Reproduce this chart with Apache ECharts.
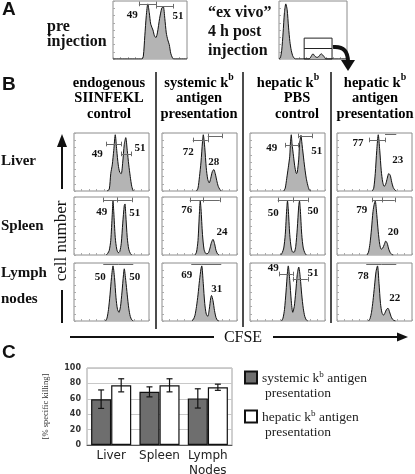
<!DOCTYPE html>
<html><head><meta charset="utf-8">
<script src="https://cdn.jsdelivr.net/npm/echarts@6.0.0/dist/echarts.min.js"></script>
<style>html,body{margin:0;padding:0;background:#fff}#c{width:415px;height:474px}</style>
</head><body><div id="c"></div>
<script>
// ---------- DATA (CFSE channel 0-100 across each plot, cell count 0-100) ----------
const preInjection = [[0,0],[39,0],[41,5],[43,40],[45,75],[47,95],[49,80],[51,60],[54,50],[56,40],[58,37],[60,45],[63,70],[66,88],[68,90],[70,70],[72,45],[74,33],[76,25],[78,10],[80,3],[82,0],[100,0]];
const exVivo = [[0,0],[2,2],[4,15],[6,45],[8,80],[10,95],[12,85],[14,55],[16,30],[18,15],[20,6],[22,2],[24,0],[44,0],[46,2],[48,6],[50,9],[52,6],[55,3],[57,3],[59,5],[62,9],[65,6],[67,3],[69,0],[100,0]];

const liverEndo = [[44,0],[47,3],[49,30],[51,45],[53,70],[55,97],[57,70],[59,45],[61,32],[63,30],[65,50],[67,80],[69,92],[71,70],[73,45],[75,25],[77,8],[79,0]];
const liverSys  = [[46,0],[48,5],[50,25],[52,50],[54,85],[55,97],[57,75],[59,40],[61,20],[63,14],[65,22],[67,33],[69,37],[71,30],[73,18],[75,8],[77,3],[79,0]];
const liverPBS  = [[45,0],[47,5],[49,22],[51,40],[53,60],[54,85],[55,97],[56,82],[58,60],[60,40],[62,30],[63,32],[65,55],[66,80],[68,96],[69,85],[71,62],[73,40],[75,22],[77,10],[79,2],[81,0]];
const liverHep  = [[47,0],[49,5],[51,30],[53,70],[55,97],[57,70],[59,35],[61,15],[63,8],[65,12],[67,22],[69,30],[71,27],[73,15],[75,6],[77,2],[79,0]];

const spleenEndo = [[43,0],[45,3],[47,8],[49,25],[51,70],[52,93],[53,75],[55,30],[57,10],[59,4],[61,6],[63,20],[65,55],[67,85],[68,88],[69,70],[71,30],[73,10],[75,3],[77,0]];
const spleenSys  = [[44,0],[46,5],[48,25],[50,75],[51,93],[52,80],[54,35],[56,10],[58,3],[60,2],[62,4],[64,12],[66,22],[68,27],[70,20],[72,8],[74,2],[76,0]];
const spleenPBS  = [[41,0],[43,4],[45,12],[47,35],[49,80],[50,93],[51,80],[53,35],[55,12],[57,5],[59,5],[61,15],[63,45],[65,85],[66,93],[67,80],[69,35],[71,12],[73,4],[75,0]];
const spleenHep  = [[40,0],[42,5],[44,20],[46,45],[48,75],[50,90],[51,93],[53,70],[55,40],[57,18],[59,10],[61,12],[63,18],[65,24],[67,20],[69,10],[71,4],[73,1],[75,0]];

const lymphEndo = [[42,0],[44,5],[46,20],[48,45],[50,75],[52,95],[54,75],[56,40],[58,20],[60,15],[62,25],[64,50],[66,80],[67,90],[69,70],[71,45],[73,22],[75,8],[77,2],[79,0]];
const lymphSys  = [[40,0],[42,3],[44,10],[46,25],[48,45],[50,70],[52,90],[53,95],[55,65],[57,30],[59,12],[61,8],[63,20],[65,40],[66,44],[68,35],[70,18],[72,6],[74,1],[76,0]];
const lymphPBS  = [[42,0],[44,5],[46,20],[48,50],[50,85],[51,95],[53,70],[55,35],[57,15],[59,25],[61,50],[63,80],[65,93],[67,75],[69,45],[71,22],[73,8],[75,2],[77,0]];
const lymphHep  = [[42,0],[44,4],[46,15],[48,35],[50,60],[52,85],[54,95],[56,65],[58,30],[60,14],[62,10],[64,14],[66,20],[68,22],[70,16],[72,8],[74,3],[76,1],[78,0]];

// gates: [start, end, height]
const preGates = [[35,59,95],[59,81,91]];
const liverGates  = [[[43,63,81],[63,76,64]], [[41,61,88],[61,80,95]], [[47,64,79],[64,83,95]], [[43,64,88],[64,79,97]]];
const spleenGates = [[[39,57,95],[57,77,95]], [[37,55,95],[55,77,95]], [[37,57,95],[57,77,95]], [[47,60,95],[60,77,95]]];
const lymphGates  = [[[39,59,97],[59,79,97]], [[39,53,97],[53,79,97]], [[39,57,81],[57,77,72]], [[39,59,97],[59,79,97]]];

// gate percentages
const prePct = [49, 51];
const liverPct  = [[49,51],[72,28],[49,51],[77,23]];
const spleenPct = [[49,51],[76,24],[50,50],[79,20]];
const lymphPct  = [[50,50],[69,31],[49,51],[78,22]];

// inset gate on the ex vivo histogram: [x1, x2, top, divider]
const exVivoInset = [37, 78, 36, 19];

// panel C
const barCats = ['Liver', 'Spleen', 'Lymph\nNodes'];
const systemicMean = [59.5, 69, 60.5];
const systemicErr  = [12, 6.5, 12.5];
const hepaticMean  = [77.5, 77.5, 75];
const hepaticErr   = [8.5, 8.5, 4];
const barTicks = [0, 20, 40, 60, 80, 100];

// ---------- LAYOUT ----------
const serif = '"Liberation Serif","Times New Roman",serif';
const sans = '"Liberation Sans",Arial,sans-serif';
const dsans = '"DejaVu Sans",Verdana,sans-serif';

const colLeft = [74, 162, 250, 337], rowTop = [133, 197, 263];
const boxes = [{left:113, top:1, width:74, height:58}, {left:279, top:1, width:68, height:58}];
rowTop.forEach(t => colLeft.forEach(l => boxes.push({left:l, top:t, width:75, height:58})));

const histData = [preInjection, exVivo, liverEndo, liverSys, liverPBS, liverHep,
  spleenEndo, spleenSys, spleenPBS, spleenHep, lymphEndo, lymphSys, lymphPBS, lymphHep];
const histGates = [preGates, [], ...liverGates, ...spleenGates, ...lymphGates];
const histPct = [prePct, [], ...liverPct, ...spleenPct, ...lymphPct];
const pctAnchor = [
  [[26,76],[88,74]], [],
  [[31,64],[88,74]], [[35,67],[69,50]], [[29,74],[89,69]], [[28,83],[81,53]],
  [[37,74],[81,72]], [[33,78],[80,40]], [[31,72],[84,76]], [[33,78],[75,40]],
  [[35,76],[81,76]], [[33,79],[73,55]], [[31,91],[84,83]], [[35,78],[77,40]]
];

const grids = boxes.map(b => Object.assign({show:true, borderColor:'#8c8c8c', borderWidth:1, outerBoundsMode:'none'}, b));
grids.push({left:87, right:183, top:368, bottom:29, show:true, borderColor:'#a0a0a0', borderWidth:1,
  containLabel:false, outerBoundsMode:'none'});
const barGrid = grids.length - 1;

const xAxes = boxes.map((b,i) => ({gridIndex:i, type:'value', min:0, max:100, interval:10,
  axisLine:{show:false}, axisTick:{show:true, inside:true, length:2, lineStyle:{color:'#aaa'}},
  axisLabel:{show:false}, splitLine:{show:false}}));
const yAxes = boxes.map((b,i) => ({gridIndex:i, type:'value', min:0, max:100, interval:12.5,
  axisLine:{show:false}, axisTick:{show:true, inside:true, length:2, lineStyle:{color:'#aaa'}},
  axisLabel:{show:false}, splitLine:{show:false}}));

xAxes.push({gridIndex:barGrid, type:'category', data:barCats,
  axisLine:{show:true, lineStyle:{color:'#555'}}, axisTick:{show:false},
  axisLabel:{interval:0, fontFamily:dsans, fontSize:12, color:'#222', lineHeight:15, margin:3}});
yAxes.push({gridIndex:barGrid, type:'value', min:barTicks[0], max:barTicks[barTicks.length-1], interval:20,
  axisLine:{show:false}, axisTick:{show:false},
  axisLabel:{fontFamily:dsans, fontSize:8, fontWeight:'bold', color:'#333', margin:6},
  splitLine:{show:true, lineStyle:{color:'#c8c8c8'}},
  name:'[% specific killing]', nameLocation:'middle', nameRotate:90, nameGap:37,
  nameTextStyle:{fontFamily:serif, fontSize:8.5, color:'#333'}});

function gateLines(gates) {
  const out = [];
  gates.forEach(g => {
    out.push([{coord:[g[0], g[2]]}, {coord:[g[1], g[2]]}]);
    out.push([{coord:[g[0], g[2]-4]}, {coord:[g[0], g[2]+4]}]);
    out.push([{coord:[g[1], g[2]-4]}, {coord:[g[1], g[2]+4]}]);
  });
  return out;
}

const series = histData.map((d,i) => ({
  type:'line', xAxisIndex:i, yAxisIndex:i, data:d, smooth:0.25, symbol:'none',
  lineStyle:{color:'#111', width:1}, areaStyle:{color:'#b4b4b4', opacity:1},
  silent:true,
  markLine:{silent:true, symbol:['none','none'], label:{show:false},
    lineStyle:{color:'#6a6a6a', width:1, type:'solid'}, data:gateLines(histGates[i])},
  markPoint:{silent:true, symbol:'circle', symbolSize:1, itemStyle:{color:'rgba(0,0,0,0)'},
    label:{show:true, position:'inside', fontFamily:serif, fontWeight:'bold', fontSize:11, color:'#111',
      formatter: p => String(p.value)},
    data: histPct[i].map((v,j) => ({coord: pctAnchor[i][j], value: v}))}
}));
// inset gate on ex vivo plot
series[1].markArea = {silent:true, itemStyle:{color:'rgba(0,0,0,0)', borderColor:'#222', borderWidth:1},
  data:[[{coord:[exVivoInset[0], 0]}, {coord:[exVivoInset[1], exVivoInset[2]]}]]};
series[1].markLine = {silent:true, symbol:['none','none'], label:{show:false},
  lineStyle:{color:'#222', width:1, type:'solid'},
  data:[[{coord:[exVivoInset[0], exVivoInset[3]]}, {coord:[exVivoInset[1], exVivoInset[3]]}]]};

const supRich = (size) => ({
  n:{fontFamily:serif, fontWeight:'bold', fontSize:size, lineHeight:size+4, verticalAlign:'bottom', color:'#111'},
  s:{fontFamily:serif, fontWeight:'bold', fontSize:size*0.68, lineHeight:size*0.68, padding:[0,0,size*0.55,0], verticalAlign:'bottom', color:'#111'}
});

series.push({name:'systemic', type:'bar', xAxisIndex:barGrid, yAxisIndex:barGrid, data:systemicMean,
  barGap:'0%', barCategoryGap:'17%', itemStyle:{color:'#6e6e6e', borderColor:'#111', borderWidth:1.2}});
series.push({name:'hepatic', type:'bar', xAxisIndex:barGrid, yAxisIndex:barGrid, data:hepaticMean,
  barGap:'0%', barCategoryGap:'17%', itemStyle:{color:'#ffffff', borderColor:'#111', borderWidth:1.2}});

function errRender(sign) {
  return function(params, api) {
    const i = api.value(0), m = api.value(1), e = api.value(2);
    const band = api.size([1, 0])[0];
    const bw = band * 0.83 / 2;
    const cx = api.coord([i, m])[0] + sign * bw / 2;
    const top = api.coord([i, m + e])[1], bot = api.coord([i, m - e])[1];
    const st = {stroke:'#111', lineWidth:1.2};
    return {type:'group', children:[
      {type:'line', shape:{x1:cx, y1:top, x2:cx, y2:bot}, style:st},
      {type:'line', shape:{x1:cx-3, y1:top, x2:cx+3, y2:top}, style:st},
      {type:'line', shape:{x1:cx-3, y1:bot, x2:cx+3, y2:bot}, style:st}
    ]};
  };
}
series.push({type:'custom', xAxisIndex:barGrid, yAxisIndex:barGrid, renderItem:errRender(-1),
  encode:{x:0, y:[1]}, data:systemicMean.map((m,i) => [i, m, systemicErr[i]]), z:5, silent:true});
series.push({type:'custom', xAxisIndex:barGrid, yAxisIndex:barGrid, renderItem:errRender(1),
  encode:{x:0, y:[1]}, data:hepaticMean.map((m,i) => [i, m, hepaticErr[i]]), z:5, silent:true});

// ---------- GRAPHIC TEXT / DECORATION ----------
const T = (text, x, y, opt) => ({type:'text', z:10, style:Object.assign({text, x, y,
  fontFamily:serif, fontWeight:'bold', fontSize:16, fill:'#111', align:'left', verticalAlign:'middle'}, opt||{})});
const Rt = (text, x, y, size) => ({type:'text', z:10, style:{text, x, y, align:'center', verticalAlign:'middle',
  rich:supRich(size)}});
const L = (x1,y1,x2,y2,w) => ({type:'line', z:10, shape:{x1,y1,x2,y2}, style:{stroke:'#111', lineWidth:w||1.5}});

const hs = 14.5;
const graphic = [
  T('A', 2, 10, {fontFamily:sans, fontSize:19}),
  T('B', 2, 85, {fontFamily:sans, fontSize:19}),
  T('C', 2, 353, {fontFamily:sans, fontSize:19}),
  T('pre', 47, 27),
  T('injection', 47, 42),
  T('\u201cex vivo\u201d', 208, 13),
  T('4 h post', 208, 32),
  T('injection', 208, 51),
  // curved arrow
  {type:'bezierCurve', z:10, shape:{x1:333, y1:47, x2:348, y2:62, cpx1:344, cpy1:46, cpx2:348, cpy2:52},
    style:{stroke:'#111', lineWidth:4, fill:null}},
  {type:'polygon', z:10, shape:{points:[[341,60],[355,60],[348,71]]}, style:{fill:'#111'}},
  // column headers
  Rt('{n|endogenous}', 109, 81, hs), Rt('{n|SIINFEKL}', 109, 96, hs), Rt('{n|control}', 109, 112, hs),
  Rt('{n|systemic k}{s|b}', 199, 81, hs), Rt('{n|antigen}', 199, 96, hs), Rt('{n|presentation}', 199, 112, hs),
  Rt('{n|hepatic k}{s|b}', 288, 81, hs), Rt('{n|PBS}', 297, 96, hs), Rt('{n|control}', 297, 112, hs),
  Rt('{n|hepatic k}{s|b}', 375, 81, hs), Rt('{n|antigen}', 375, 96, hs), Rt('{n|presentation}', 375, 112, hs),
  // separators
  L(156, 72, 156, 329), L(243, 72, 243, 327), L(331, 72, 331, 323),
  // row labels
  T('Liver', 1, 161, {fontSize:15}),
  T('Spleen', 1, 226, {fontSize:15}),
  T('Lymph', 1, 273, {fontSize:15}),
  T('nodes', 1, 299, {fontSize:15}),
  // y arrow
  L(62, 146, 62, 189, 2), L(62, 290, 62, 323, 2),
  {type:'polygon', z:10, shape:{points:[[57,147],[67,147],[62,134]]}, style:{fill:'#111'}},
  {type:'text', z:10, x:62, y:241, rotation:Math.PI/2, style:{text:'cell number', x:0, y:0,
    align:'center', verticalAlign:'middle', fontFamily:serif, fontSize:17, fill:'#111'}},
  // CFSE arrow
  L(70, 337, 214, 337, 2), L(273, 337, 399, 337, 2),
  {type:'polygon', z:10, shape:{points:[[397,332.5],[397,341.5],[408,337]]}, style:{fill:'#111'}},
  T('CFSE', 243, 338, {fontWeight:'normal', fontSize:16, align:'center'}),
  // legend second lines
  T('presentation', 265, 393, {fontWeight:'normal', fontSize:13.5, fill:'#222'}),
  T('presentation', 265, 432, {fontWeight:'normal', fontSize:13.5, fill:'#222'})
];

const legendRich = {
  n:{fontFamily:serif, fontSize:13.5, lineHeight:15, verticalAlign:'bottom', color:'#222'},
  s:{fontFamily:serif, fontSize:9, lineHeight:9, padding:[0,0,6,0], verticalAlign:'bottom', color:'#222'}
};

const option = {
  animation:false,
  backgroundColor:'#fff',
  grid:grids, xAxis:xAxes, yAxis:yAxes, series,
  legend:{orient:'vertical', left:244, top:370, padding:0, itemWidth:12, itemHeight:12, itemGap:24,
    icon:'rect', selectedMode:false, data:['systemic','hepatic'],
    formatter: n => n==='systemic' ? '{n|systemic k}{s|b}{n| antigen}' : '{n|hepatic k}{s|b}{n| antigen}',
    textStyle:{rich:legendRich}},
  graphic
};
const chart = echarts.init(document.getElementById('c'), null, {width:415, height:474});
chart.setOption(option);
</script></body></html>
